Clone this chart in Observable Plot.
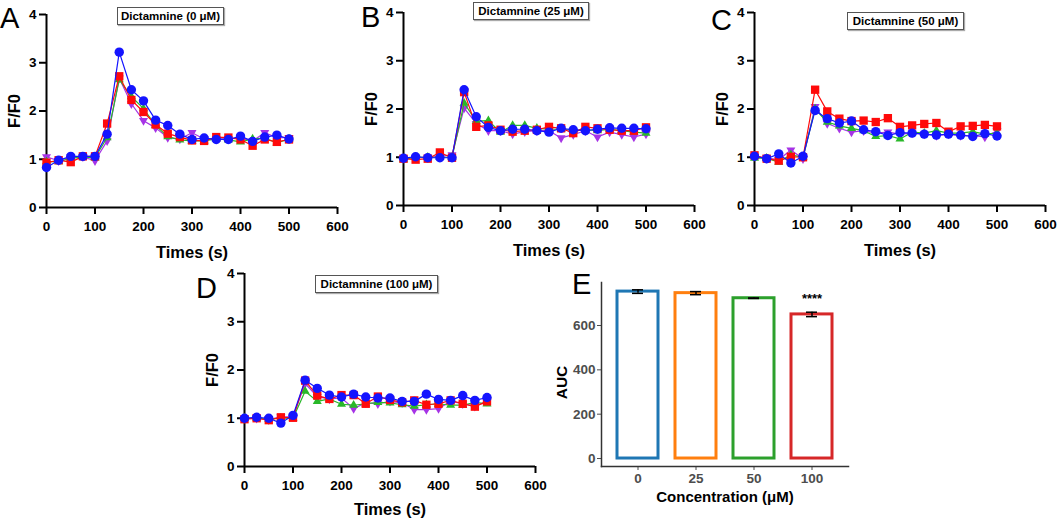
<!DOCTYPE html>
<html>
<head>
<meta charset="utf-8">
<script src="https://cdn.jsdelivr.net/npm/d3@7"></script>
<script src="https://cdn.jsdelivr.net/npm/@observablehq/plot@0.6"></script>
<style>
  body { margin: 0; background: white; }
  #fig { position: relative; width: 1059px; height: 520px; overflow: hidden; font-family: "Liberation Sans", Arial, sans-serif; }
  .panel { position: absolute; }
  .panel svg { overflow: visible; max-width: none; }
  .panel svg text { font-weight: bold; }
  .letter { position: absolute; font-size: 29px; font-family: "Liberation Sans", Arial, sans-serif; line-height: 1; color: #000; }
  .tbox { position: absolute; border: 1px solid #555; box-shadow: 1px 1px 1px #aaa; font-size: 11.5px; font-weight: bold; text-align: center; background: white; line-height: 16px; }
</style>
</head>
<body>
<div id="fig"></div>
<script>
const times = [0,25,50,75,100,125,150,175,200,225,250,275,300,325,350,375,400,425,450,475,500];
const seriesNames = ["purple", "green", "red", "blue"];
const seriesColors = ["#a633e6", "#29b829", "#ff0a0a", "#1414ff"];

// Panel A: Dictamnine (0 µM)
const A_purple = [1.05,0.97,1.05,1.05,0.97,1.38,2.68,2.15,1.80,1.65,1.45,1.42,1.55,1.42,1.42,1.43,1.43,1.38,1.55,1.45,1.45];
const A_green  = [0.95,0.95,1.02,1.05,1.03,1.45,2.65,2.30,2.05,1.70,1.47,1.40,1.38,1.38,1.42,1.40,1.36,1.42,1.44,1.34,1.42];
const A_red    = [0.93,0.98,0.94,1.06,1.06,1.74,2.72,2.23,1.98,1.72,1.53,1.46,1.39,1.38,1.46,1.45,1.41,1.28,1.41,1.36,1.41];
const A_blue   = [0.83,0.98,1.06,1.06,1.06,1.52,3.22,2.44,2.21,1.81,1.70,1.52,1.41,1.44,1.41,1.41,1.48,1.37,1.46,1.50,1.42];
// Panel B: 25 µM
const B_purple = [0.98,1.00,1.00,1.02,1.05,2.02,1.70,1.55,1.55,1.48,1.53,1.55,1.55,1.40,1.47,1.55,1.42,1.52,1.47,1.42,1.48];
const B_green  = [0.95,1.00,1.00,1.00,1.00,2.12,1.75,1.76,1.52,1.66,1.66,1.60,1.58,1.58,1.56,1.57,1.55,1.58,1.55,1.52,1.50];
const B_red    = [0.97,0.95,0.97,1.10,0.99,2.35,1.63,1.66,1.57,1.53,1.55,1.57,1.63,1.60,1.50,1.63,1.60,1.57,1.55,1.55,1.62];
const B_blue   = [0.98,1.01,0.99,0.99,0.99,2.40,1.84,1.62,1.55,1.58,1.58,1.55,1.52,1.60,1.57,1.55,1.58,1.61,1.60,1.60,1.59];
// Panel C: 50 µM
const C_purple = [1.02,0.98,0.95,1.15,0.97,2.05,1.70,1.60,1.52,1.55,1.50,1.52,1.48,1.50,1.48,1.45,1.48,1.45,1.45,1.42,1.55];
const C_green  = [0.98,0.98,0.90,1.05,1.00,2.00,1.73,1.65,1.60,1.55,1.43,1.45,1.38,1.52,1.50,1.55,1.50,1.50,1.53,1.48,1.50];
const C_red    = [1.04,0.97,0.93,1.01,1.00,2.40,1.95,1.80,1.75,1.76,1.73,1.81,1.63,1.66,1.69,1.71,1.53,1.64,1.65,1.67,1.64];
const C_blue   = [1.02,0.97,1.07,0.88,1.02,1.97,1.80,1.71,1.75,1.57,1.53,1.45,1.51,1.50,1.48,1.46,1.48,1.46,1.43,1.49,1.44];
// Panel D: 100 µM
const D_purple = [1.00,1.00,0.97,1.03,1.03,1.72,1.45,1.40,1.42,1.20,1.32,1.30,1.35,1.32,1.18,1.18,1.20,1.35,1.30,1.25,1.35];
const D_green  = [1.00,1.00,0.98,1.00,1.00,1.56,1.35,1.40,1.29,1.27,1.30,1.33,1.32,1.28,1.25,1.28,1.30,1.27,1.27,1.33,1.30];
const D_red    = [0.98,1.00,0.96,1.02,1.01,1.78,1.47,1.40,1.48,1.48,1.30,1.45,1.38,1.33,1.37,1.28,1.30,1.37,1.30,1.24,1.35];
const D_blue   = [1.00,1.02,1.00,0.90,1.06,1.79,1.62,1.48,1.44,1.50,1.44,1.42,1.42,1.35,1.35,1.50,1.39,1.37,1.47,1.37,1.43];

const xTicks = [0,100,200,300,400,500,600];
const yTicks = [0,1,2,3,4];

// Panel E: AUC
const concentrations = ["0","25","50","100"];
const aucMeans = [753,746,723,650];
const aucErr = [8,7,1,10];
const aucColors = ["#1f77b4","#ff7f0e","#2ca02c","#d62728"];
const aucTicks = [0,200,400,600];
const aucSig = ["","","","****"];

// downward-pointing triangle symbol (mirror of d3.symbolTriangle2)
const triangleDown = {
  draw(context, size) {
    const s = Math.sqrt(size) * 0.6824, t = s / 2, u = s * Math.sqrt(3) / 2;
    context.moveTo(0, s);
    context.lineTo(u, -t);
    context.lineTo(-u, -t);
    context.closePath();
  }
};
const seriesSymbols = [triangleDown, "triangle2", "square", "circle"];

const panelsLine = [
  {key:"A", title:"Dictamnine (0 μM)", data:[A_purple,A_green,A_red,A_blue], left:-4, top:0, letter:[0,4], box:[117,7,105], xl:50},
  {key:"B", title:"Dictamnine (25 μM)", data:[B_purple,B_green,B_red,B_blue], left:353, top:-2, letter:[361,3], box:[473,2,114], xl:50},
  {key:"C", title:"Dictamnine (50 μM)", data:[C_purple,C_green,C_red,C_blue], left:704, top:-2, letter:[711,6], box:[847,12,115], xl:50},
  {key:"D", title:"Dictamnine (100 μM)", data:[D_purple,D_green,D_red,D_blue], left:194, top:259, letter:[196,274], box:[315,275,121], xl:48},
];

const fig = document.getElementById("fig");
const ML = 50, MR = 16, MT = 14, MB = 50, FW = 291, FH = 193;
const FONT = "Liberation Sans, Arial, sans-serif";

for (const p of panelsLine) {
  const rows = [];
  p.data.forEach((arr, si) => arr.forEach((v, i) => rows.push({t: times[i], v, s: seriesNames[si]})));
  const marks = [];
  seriesNames.forEach((name, si) => {
    const d = rows.filter(r => r.s === name);
    marks.push(Plot.line(d, {x: "t", y: "v", stroke: seriesColors[si], strokeWidth: 1.2}));
    marks.push(Plot.dot(d, {x: "t", y: "v", fill: seriesColors[si], stroke: "none", symbol: seriesSymbols[si], r: si === 0 || si === 1 ? 4.3 : 4.7}));
  });
  const chart = Plot.plot({
    width: ML + FW + MR, height: MT + FH + MB,
    marginLeft: ML, marginRight: MR, marginTop: MT, marginBottom: MB,
    style: {background: "transparent", overflow: "visible", fontFamily: FONT, fontSize: "13.5px", fontWeight: "bold", color: "black"},
    x: {domain: [0, 600]},
    y: {domain: [0, 4]},
    marks: [
      Plot.axisX({ticks: xTicks, tickSize: 7, tickPadding: 7, strokeWidth: 2, stroke: "black", fill: "black", label: null, tickFormat: d => String(d)}),
      Plot.axisY({ticks: yTicks, tickSize: 7, tickPadding: 3, strokeWidth: 2, stroke: "black", fill: "black", label: null, tickFormat: d => String(d)}),
      Plot.ruleY([0], {stroke: "black", strokeWidth: 2}),
      Plot.ruleX([0], {stroke: "black", strokeWidth: 2}),
      ...marks,
      Plot.text(["Times (s)"], {frameAnchor: "bottom", lineAnchor: "bottom", dy: p.xl, fontSize: 16.5, fontWeight: "bold", fill: "black"}),
      Plot.text(["F/F0"], {frameAnchor: "left", textAnchor: "middle", lineAnchor: "middle", dx: -32, rotate: -90, fontSize: 16.5, fontWeight: "bold", fill: "black"})
    ]
  });
  const div = document.createElement("div");
  div.className = "panel";
  div.style.left = p.left + "px"; div.style.top = p.top + "px";
  div.appendChild(chart);
  fig.appendChild(div);
  const L = document.createElement("div");
  L.className = "letter"; L.textContent = p.key;
  L.style.left = p.letter[0] + "px"; L.style.top = p.letter[1] + "px";
  fig.appendChild(L);
  const B = document.createElement("div");
  B.className = "tbox"; B.textContent = p.title;
  B.style.left = p.box[0] + "px"; B.style.top = p.box[1] + "px"; B.style.width = p.box[2] + "px";
  fig.appendChild(B);
}

// Panel E
{
  const rows = concentrations.map((c, i) => ({c, m: aucMeans[i], e: aucErr[i], col: aucColors[i], sig: aucSig[i]}));
  const gray = "#4d4d4d";
  const chart = Plot.plot({
    width: 61 + 247 + 12, height: 20 + 184 + 50,
    marginLeft: 61, marginRight: 12, marginTop: 20, marginBottom: 50,
    style: {background: "transparent", overflow: "visible", fontFamily: FONT, fontSize: "13.5px", fontWeight: "bold"},
    x: {domain: concentrations, paddingInner: 0.29, paddingOuter: 0.245},
    y: {domain: [-36, 794]},
    marks: [
      Plot.barY(rows, {x: "c", y1: 0, y2: "m", fill: "white", stroke: "col", strokeWidth: 3}),
      Plot.ruleX(rows, {x: "c", y1: d => d.m - d.e, y2: d => d.m + d.e, stroke: "black", strokeWidth: 1.5}),
      Plot.tickY(rows, {x: "c", y: d => d.m - d.e, stroke: "black", strokeWidth: 1.5, insetLeft: 15, insetRight: 15}),
      Plot.tickY(rows, {x: "c", y: d => d.m + d.e, stroke: "black", strokeWidth: 1.5, insetLeft: 15, insetRight: 15}),
      Plot.text(rows, {x: "c", y: d => d.m + d.e, text: "sig", dy: -13, fontSize: 13, fontWeight: "bold", fill: "black"}),
      Plot.axisX({tickSize: 4, tickPadding: 3, stroke: gray, fill: gray, label: null}),
      Plot.axisY({ticks: aucTicks, tickSize: 4, tickPadding: 2, stroke: gray, fill: gray, label: null, tickFormat: d => String(d)}),
      Plot.frame({anchor: "left", stroke: "#333", strokeWidth: 1.5}),
      Plot.frame({anchor: "bottom", stroke: "#333", strokeWidth: 1.5}),
      Plot.text(["Concentration (μM)"], {frameAnchor: "bottom", lineAnchor: "middle", dy: 31, fontSize: 15, fontWeight: "bold", fill: "black"}),
      Plot.text(["AUC"], {frameAnchor: "left", textAnchor: "middle", lineAnchor: "middle", dx: -39, dy: 8, rotate: -90, fontSize: 15.5, fontWeight: "bold", fill: "black"})
    ]
  });
  const div = document.createElement("div");
  div.className = "panel";
  div.style.left = "540px"; div.style.top = "262px";
  div.appendChild(chart);
  fig.appendChild(div);
  const L = document.createElement("div");
  L.className = "letter"; L.textContent = "E";
  L.style.left = "572px"; L.style.top = "270px";
  fig.appendChild(L);
}
</script>
</body>
</html>
